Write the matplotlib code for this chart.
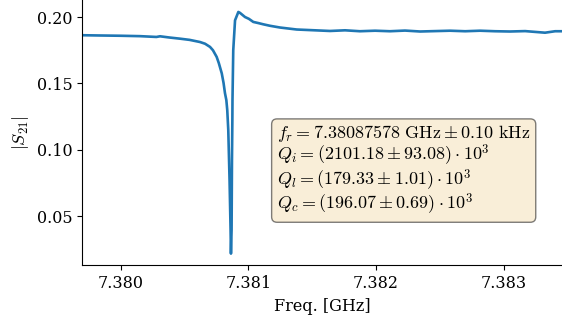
import matplotlib
matplotlib.use('Agg')
import matplotlib.pyplot as plt

# |S21| trace (frequency in GHz)
freq = [7.379699, 7.379838, 7.380000, 7.380151, 7.380280, 7.380308, 7.380380,
        7.380465, 7.380540, 7.380621, 7.380661, 7.380700, 7.380723, 7.380752,
        7.380769, 7.380792, 7.380806, 7.380817, 7.380828, 7.380835, 7.380843,
        7.380853, 7.380861, 7.380864, 7.380869, 7.380872, 7.380875, 7.380876,
        7.380882, 7.380896, 7.380922, 7.380935, 7.380974, 7.381005, 7.381039,
        7.381076, 7.381118, 7.381170, 7.381248, 7.381379, 7.381640, 7.381758,
        7.381875, 7.381993, 7.382110, 7.382228, 7.382346, 7.382463, 7.382581,
        7.382699, 7.382816, 7.382934, 7.383051, 7.383169, 7.383325, 7.383404,
        7.383458]
s21 = [0.1863, 0.1861, 0.1859, 0.1856, 0.1850, 0.1855, 0.1846,
       0.1837, 0.1828, 0.1812, 0.1799, 0.1775, 0.1750, 0.1700,
       0.1653, 0.1576, 0.1504, 0.1428, 0.1374, 0.1300, 0.1150,
       0.0775, 0.0400, 0.0220, 0.0400, 0.0925, 0.1225, 0.1375,
       0.1750, 0.1975, 0.2038, 0.2031, 0.2000, 0.1986, 0.1963,
       0.1955, 0.1945, 0.1934, 0.1921, 0.1906, 0.1895, 0.1900,
       0.1893, 0.1897, 0.1893, 0.1898, 0.1891, 0.1894, 0.1897,
       0.1893, 0.1897, 0.1893, 0.1891, 0.1894, 0.1882, 0.1893,
       0.1893]

fit_lines = [
    r'$f_r = 7.38087578\ \mathrm{GHz} \pm 0.10\ \mathrm{kHz}$',
    r'$Q_i = (2101.18 \pm 93.08) \cdot 10^3$',
    r'$Q_l = (179.33 \pm 1.01) \cdot 10^3$',
    r'$Q_c = (196.07 \pm 0.69) \cdot 10^3$',
]

plt.rcParams['font.family'] = 'DejaVu Serif'
plt.rcParams['mathtext.fontset'] = 'cm'

fig = plt.figure(figsize=(5.62, 3.30), dpi=100)
ax = fig.add_axes([0.1464, 0.196, 0.8536, 0.804])

ax.plot(freq, s21, color='tab:blue', lw=1.9)
ax.set_xlim(freq[0], freq[-1])
ax.set_ylim(0.0132, 0.2128)
ax.set_xticks([7.380, 7.381, 7.382, 7.383])
ax.set_xticklabels(['7.380', '7.381', '7.382', '7.383'])
ax.set_yticks([0.05, 0.10, 0.15, 0.20])
ax.set_yticklabels(['0.05', '0.10', '0.15', '0.20'])
ax.tick_params(labelsize=11.5)

ax.set_xlabel('Freq. [GHz]', fontsize=11.5)
ax.set_ylabel(r'$|S_{21}|$', fontsize=13)

ax.spines['top'].set_visible(False)
ax.spines['right'].set_visible(False)

# fit results box
ax.text(0.406, 0.537, '\n'.join(fit_lines), transform=ax.transAxes,
        fontsize=13, va='top', ha='left', linespacing=0.95,
        bbox=dict(boxstyle='round', facecolor='wheat', alpha=0.5))

fig.savefig('out.png', dpi=100)
